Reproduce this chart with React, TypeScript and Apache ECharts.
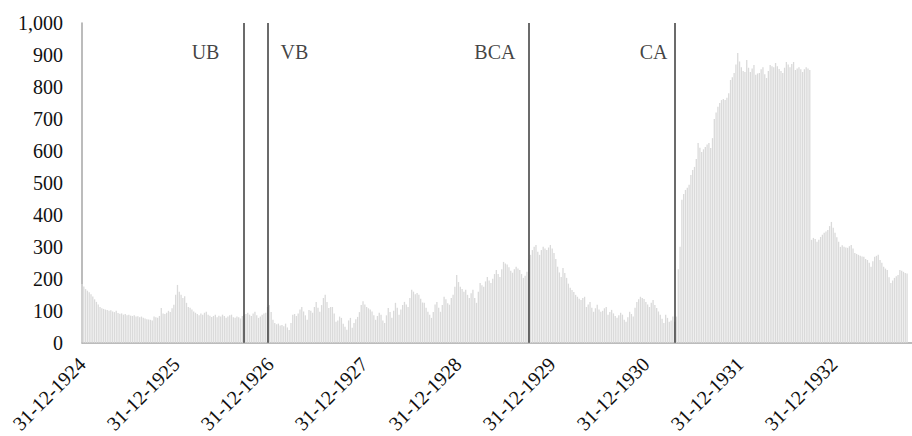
import React, { useEffect, useRef } from "react";
import * as echarts from "echarts";

// Weekly values, one array per year, starting with the week of 31-12-1924
const w1925 = [184, 176, 168, 163, 158, 152, 145, 136, 128, 120, 112, 108, 106, 104, 103, 100, 102, 98, 96, 100, 93, 91, 92, 88, 90, 86, 88, 85, 84, 86, 82, 83, 80, 82, 78, 76, 74, 73, 72, 70, 82, 80, 78, 84, 109, 92, 90, 94, 100, 96, 108, 119];
const w1926 = [150, 181, 160, 150, 140, 146, 125, 112, 110, 104, 98, 94, 90, 86, 92, 88, 94, 97, 88, 85, 81, 84, 88, 80, 85, 82, 88, 84, 78, 82, 86, 88, 80, 78, 82, 80, 76, 84, 88, 90, 94, 88, 84, 92, 97, 86, 78, 82, 88, 92, 94, 112];
const w1927 = [118, 96, 72, 62, 58, 60, 54, 56, 52, 60, 48, 40, 62, 88, 90, 84, 92, 104, 112, 98, 86, 72, 103, 100, 94, 112, 128, 110, 97, 118, 140, 150, 128, 109, 112, 112, 92, 66, 70, 82, 78, 60, 50, 41, 70, 78, 47, 62, 74, 81, 96, 118];
const w1928 = [130, 120, 112, 108, 104, 98, 86, 72, 84, 94, 88, 70, 62, 86, 109, 96, 78, 100, 125, 110, 88, 104, 118, 128, 120, 112, 140, 166, 160, 152, 156, 150, 138, 126, 125, 110, 97, 88, 78, 96, 120, 128, 110, 97, 118, 144, 136, 124, 119, 140, 150, 175];
const w1929 = [212, 190, 175, 168, 160, 166, 150, 140, 155, 166, 140, 125, 160, 187, 180, 175, 192, 206, 195, 187, 200, 215, 228, 215, 206, 230, 253, 248, 245, 236, 225, 219, 230, 238, 232, 228, 215, 203, 210, 222, 260, 275, 290, 300, 306, 285, 275, 290, 300, 295, 290, 298];
const w1930 = [306, 295, 281, 262, 238, 220, 206, 234, 218, 203, 185, 172, 165, 159, 150, 144, 138, 134, 140, 144, 112, 120, 128, 110, 97, 108, 119, 104, 97, 100, 108, 112, 88, 96, 103, 92, 84, 78, 86, 94, 88, 72, 66, 80, 97, 90, 82, 110, 128, 136, 144, 140];
const w1931 = [137, 128, 120, 112, 125, 134, 118, 109, 98, 88, 75, 62, 88, 78, 66, 70, 82, 66, 82, 230, 300, 447, 465, 478, 485, 494, 525, 540, 550, 575, 625, 610, 597, 605, 612, 620, 625, 609, 640, 700, 720, 738, 750, 759, 762, 759, 766, 780, 822, 830, 844, 870];
const w1932 = [906, 880, 862, 850, 847, 884, 860, 847, 858, 869, 838, 842, 844, 855, 862, 840, 828, 850, 869, 865, 862, 875, 865, 856, 850, 844, 860, 878, 870, 862, 872, 878, 853, 858, 862, 855, 847, 855, 862, 858, 853, 322, 328, 325, 316, 322, 331, 338, 344, 348, 353, 365];
const w1933 = [378, 360, 344, 330, 316, 300, 305, 300, 298, 297, 302, 306, 295, 281, 278, 275, 272, 270, 269, 262, 259, 250, 238, 255, 269, 272, 275, 259, 250, 238, 232, 228, 205, 187, 195, 203, 208, 212, 228, 225, 222, 218, 217];

// Tick labels: years of the 31-12 anchors (axis unit = years since 31-12-1924)
const tickYears = [1924, 1925, 1926, 1927, 1928, 1929, 1930, 1931, 1932];

// Events (position in years since 31-12-1924)
const eventNames = ["UB", "VB", "BCA", "CA"];
const eventPos = [1.723, 1.979, 4.755, 6.309];
const eventSide = ["left", "right", "left", "left"];
const eventGap = [24, 12, 13, 7];
const eventLabelLevel = 910;

const weekly = [...w1925, ...w1926, ...w1927, ...w1928, ...w1929, ...w1930, ...w1931, ...w1932, ...w1933];
const WEEK = 7 / 365.25;

export default function App() {
  const ref = useRef<HTMLDivElement>(null);
  useEffect(() => {
    if (!ref.current) return;
    const chart = echarts.init(ref.current, null, { renderer: "svg" });
    const font = "'Liberation Serif', 'Times New Roman', serif";
    chart.setOption({
      animation: false,
      backgroundColor: "#ffffff",
      grid: { left: 82, right: 0, top: 23, bottom: 93, containLabel: false },
      xAxis: {
        type: "value",
        min: 0,
        max: 8.83,
        interval: 1,
        splitLine: { show: false },
        axisTick: { show: false },
        axisLine: { show: true, lineStyle: { color: "#a6a6a6", width: 1.5 } },
        axisLabel: {
          rotate: 45,
          margin: 18,
          color: "#111111",
          fontFamily: font,
          fontSize: 20,
          showMaxLabel: false,
          formatter: (v: number) => {
            const k = Math.round(v);
            if (Math.abs(v - k) > 1e-6 || k < 0 || k >= tickYears.length) return "";
            return "31-12-" + tickYears[k];
          },
        },
      },
      yAxis: {
        type: "value",
        min: 0,
        max: 1000,
        interval: 100,
        splitLine: { show: false },
        axisTick: { show: false },
        axisLine: { show: true, lineStyle: { color: "#a6a6a6", width: 1.5 } },
        axisLabel: {
          margin: 19,
          color: "#111111",
          fontFamily: font,
          fontSize: 20,
          formatter: (v: number) => v.toLocaleString("en-US"),
        },
      },
      series: [
        {
          type: "bar",
          silent: true,
          barWidth: 1.3,
          itemStyle: { color: "#dadada" },
          data: weekly.map((v, i) => [i * WEEK, v]),
          markLine: {
            silent: true,
            symbol: ["none", "none"],
            label: { show: false },
            lineStyle: { color: "#3a3a3a", width: 1.5, type: "solid" },
            data: eventPos.map((x) => ({ xAxis: x })),
          },
        },
        {
          type: "scatter",
          silent: true,
          symbol: "circle",
          symbolSize: 1,
          itemStyle: { color: "rgba(0,0,0,0)" },
          data: eventNames.map((n, i) => ({
            name: n,
            value: [eventPos[i], eventLabelLevel],
            label: { position: eventSide[i], distance: eventGap[i] },
          })),
          label: {
            show: true,
            formatter: (p: any) => p.name,
            color: "#111111",
            fontFamily: font,
            fontSize: 20,
          },
        },
      ],
    });
    return () => chart.dispose();
  }, []);
  return (
    <div
      ref={ref}
      style={{ position: "fixed", left: 0, top: 0, width: 912, height: 436, background: "#fff" }}
    />
  );
}
